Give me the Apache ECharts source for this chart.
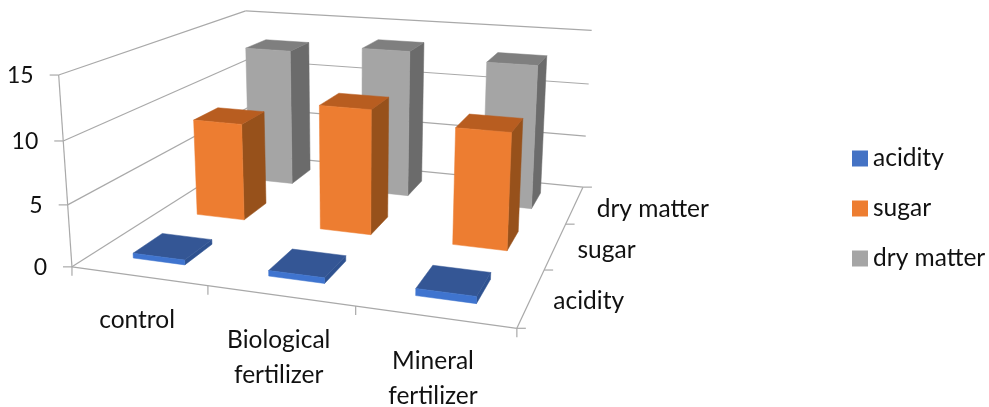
<!DOCTYPE html>
<html>
<head>
<meta charset="utf-8">
<style>html,body{margin:0;padding:0;background:#fff}#chart{width:989px;height:407px}</style>
<script src="https://cdn.jsdelivr.net/npm/echarts@6/dist/echarts.min.js"></script>
</head>
<body>
<div id="chart"></div>
<script>
const categories = [['control'], ['Biological', 'fertilizer'], ['Mineral', 'fertilizer']];
const depthLabels = ['acidity', 'sugar', 'dry matter'];
const valueTicks = [0, 5, 10, 15];
const acidity = [0.4, 0.45, 0.55];
const sugar = [8.5, 10.7, 9.8];
const dryMatter = [12.8, 13.5, 13];

// Camera calibration: floor and wall corners of the box (category, depth, value) -> screen.
const anchors = [
  [0, 0, 0, 70.5, 267], [0, 0, 5, 67, 205], [0, 0, 10, 64, 141], [0, 0, 15, 60, 75],
  [3, 0, 0, 517, 328],
  [0, 3, 0, 251, 154], [0, 3, 15, 244, 11],
  [3, 3, 0, 582, 187], [3, 3, 5, 586, 137], [3, 3, 10, 589, 84], [3, 3, 15, 592, 30]
];

function solveCamera(pts) {
  const n = 11;
  const A = Array.from({length: n}, () => new Array(n + 1).fill(0));
  const add = (row, rhs) => {
    for (let i = 0; i < n; i++) {
      for (let j = 0; j < n; j++) A[i][j] += row[i] * row[j];
      A[i][n] += row[i] * rhs;
    }
  };
  pts.forEach(([u, v, h, x, y]) => {
    add([u, v, h, 1, 0, 0, 0, 0, -x * u, -x * v, -x * h], x);
    add([0, 0, 0, 0, u, v, h, 1, -y * u, -y * v, -y * h], y);
  });
  for (let c = 0; c < n; c++) {
    let p = c;
    for (let r = c + 1; r < n; r++) if (Math.abs(A[r][c]) > Math.abs(A[p][c])) p = r;
    [A[c], A[p]] = [A[p], A[c]];
    for (let r = 0; r < n; r++) {
      if (r === c) continue;
      const f = A[r][c] / A[c][c];
      for (let k = c; k <= n; k++) A[r][k] -= f * A[c][k];
    }
  }
  return A.map((row, i) => row[n] / row[i]);
}
const cam = solveCamera(anchors);
function project(u, v, h) {
  const w = cam[8] * u + cam[9] * v + cam[10] * h + 1;
  return [
    (cam[0] * u + cam[1] * v + cam[2] * h + cam[3]) / w,
    (cam[4] * u + cam[5] * v + cam[6] * h + cam[7]) / w
  ];
}

const GRID = {left: 70, top: 75, width: 447, height: 192};
const VALUE_MAX = valueTicks[valueTicks.length - 1];
const BAR_W = 0.39;
const BAR_D = 0.43;
const FONT = 'Lato, "Noto Sans", sans-serif';
const FONT_SIZE = 24.5;
const DIGIT_SIZE = 23;
const LINE = '#a9a9a9';

// Each series occupies one depth row; the bar height comes from the hidden value axis.
function barRenderer(depthIndex, faces) {
  return function (params, api) {
    const p = api.coord([api.value(0), api.value(1)]);
    const u = (p[0] - GRID.left) / GRID.width * categories.length;
    const h = (GRID.top + GRID.height - p[1]) / GRID.height * VALUE_MAX;
    const v = depthIndex + 0.5;
    const u0 = u - BAR_W / 2, u1 = u + BAR_W / 2;
    const v0 = v - BAR_D / 2, v1 = v + BAR_D / 2;
    const face = (pts, fill) => ({
      type: 'polygon',
      shape: {points: pts.map(q => project(q[0], q[1], q[2]))},
      style: {fill: fill, stroke: fill, lineWidth: 0.5}
    });
    return {
      type: 'group',
      children: [
        face([[u1, v0, 0], [u1, v1, 0], [u1, v1, h], [u1, v0, h]], faces.side),
        face([[u0, v0, h], [u1, v0, h], [u1, v1, h], [u0, v1, h]], faces.top),
        face([[u0, v0, 0], [u1, v0, 0], [u1, v0, h], [u0, v0, h]], faces.front)
      ]
    };
  };
}

function renderFrame() {
  const children = [];
  const seg = (a, b) => children.push({
    type: 'line',
    shape: {x1: a[0], y1: a[1], x2: b[0], y2: b[1]},
    style: {stroke: LINE, lineWidth: 1.2}
  });
  const label = (text, x, y, align, verticalAlign, size) => children.push({
    type: 'text', x: x, y: y,
    style: {text: text, fill: '#111', font: size + 'px ' + FONT, align: align,
            verticalAlign: verticalAlign, lineHeight: 35}
  });
  const nu = categories.length, nv = depthLabels.length;
  valueTicks.forEach(t => {
    const front = project(0, 0, t);
    seg(front, project(0, nv, t));
    seg(project(0, nv, t), project(nu, nv, t));
    seg(front, [front[0] - 9, front[1]]);
    label(String(t), front[0] - 25, front[1] + 1, 'right', 'middle', DIGIT_SIZE);
  });
  seg(project(0, 0, 0), project(0, 0, VALUE_MAX));
  seg(project(0, 0, 0), project(nu, 0, 0));
  seg(project(nu, 0, 0), project(nu, nv, 0));
  for (let i = 0; i <= nu; i++) {
    const q = project(i, 0, 0);
    seg(q, [q[0], q[1] + 9]);
  }
  for (let i = 0; i <= nv; i++) {
    const q = project(nu, i, 0);
    seg(q, [q[0] + 9, q[1]]);
  }
  categories.forEach((lines, i) => {
    const q = project(i + 0.5, 0, 0);
    label(lines.join('\n'), q[0] - 1.5, q[1] + 27, 'center', 'top', FONT_SIZE);
  });
  depthLabels.forEach((name, i) => {
    const q = project(nu, i + 0.5, 0);
    label(name, q[0] + 22, q[1] + 4, 'left', 'middle', FONT_SIZE);
  });
  return {type: 'group', children: children};
}

const toRows = values => values.map((val, i) => [i, val]);
const barSeries = (name, values, depthIndex, faces) => ({
  name: name,
  type: 'custom',
  coordinateSystem: 'cartesian2d',
  silent: true,
  animation: false,
  itemStyle: {color: faces.legend},
  data: toRows(values),
  encode: {x: 0, y: 1},
  renderItem: barRenderer(depthIndex, faces)
});

const chart = echarts.init(document.getElementById('chart'));
chart.setOption({
  backgroundColor: '#fff',
  animation: false,
  grid: {left: GRID.left, top: GRID.top, width: GRID.width, height: GRID.height},
  xAxis: {type: 'category', data: categories.map(c => c.join(' ')), show: false},
  yAxis: {type: 'value', min: 0, max: VALUE_MAX, interval: 5, show: false},
  legend: {
    data: depthLabels,
    orient: 'vertical',
    left: 847,
    top: 141,
    icon: 'rect',
    itemWidth: 16,
    itemHeight: 16,
    itemGap: 25,
    selectedMode: false,
    textStyle: {fontFamily: FONT, fontSize: FONT_SIZE, color: '#111'}
  },
  series: [
    {
      name: 'frame', type: 'custom', coordinateSystem: 'none', silent: true, animation: false,
      data: [0], renderItem: renderFrame
    },
    barSeries('dry matter', dryMatter, 2, {legend: '#a5a5a5', front: '#a5a5a5', top: '#7f7f7f', side: '#6b6b6b'}),
    barSeries('sugar', sugar, 1, {legend: '#ed7d31', front: '#ed7d31', top: '#b85d20', side: '#97511b'}),
    barSeries('acidity', acidity, 0, {legend: '#4472c4', front: '#3f74cf', top: '#345695', side: '#2f5290'})
  ]
});
</script>
</body>
</html>
